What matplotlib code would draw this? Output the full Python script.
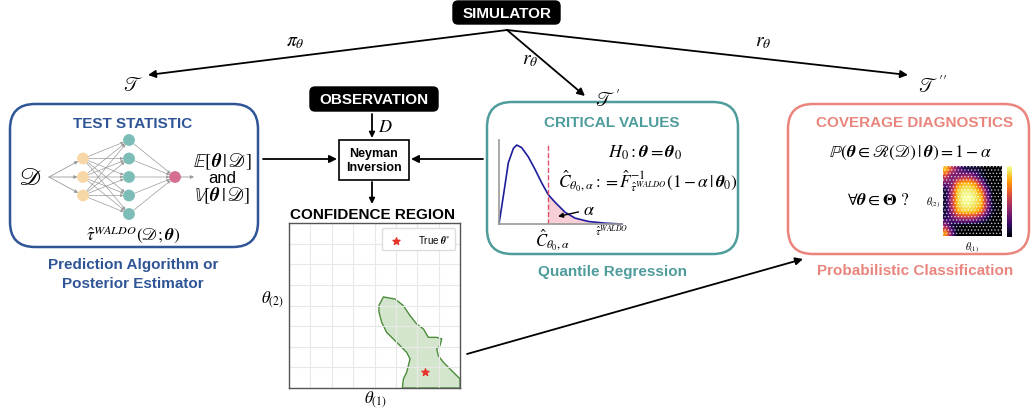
import numpy as np
import matplotlib.pyplot as plt
from matplotlib.patches import FancyBboxPatch, Rectangle, Circle, Polygon

plt.rcParams['font.family'] = ['Liberation Sans', 'DejaVu Sans']
plt.rcParams['mathtext.fontset'] = 'stix'
plt.rcParams['hatch.linewidth'] = 0.6

W, H = 1031, 410

BLUE = '#2f5597'
TEAL = '#4f9c9c'
SALMON = '#e9857d'

# neural net layers (node counts)
layer_sizes = [3, 5, 1]
layer_colors = ['#f8d7a6', '#7dbdb8', '#d46f8f']

# test statistic density
tau = [0, 0.35, 0.76, 1.17, 1.44, 1.84, 2.38, 2.93, 3.47, 4.0, 4.55, 5.37, 6.18, 7.27, 8.62, 10.0]
density = [0, 0.33, 0.73, 0.90, 0.94, 0.91, 0.80, 0.65, 0.49, 0.35, 0.26, 0.14, 0.07, 0.03, 0.01, 0.0]
cutoff = 4.0

# confidence region outline (axes fractions)
region_x = [0.526, 0.552, 0.620, 0.669, 0.708, 0.747, 0.786, 0.815, 0.864, 0.893, 0.883, 0.864,
            0.873, 0.903, 0.942, 0.981, 1.0, 1.0, 0.663, 0.669, 0.688, 0.708, 0.688, 0.649,
            0.610, 0.571, 0.542, 0.526]
region_y = [0.501, 0.552, 0.539, 0.499, 0.438, 0.388, 0.358, 0.307, 0.307, 0.297, 0.257, 0.236,
            0.196, 0.156, 0.115, 0.075, 0.055, 0.0, 0.0, 0.055, 0.095, 0.176, 0.216, 0.257,
            0.297, 0.337, 0.398, 0.461]
true_theta = (0.795, 0.099)

# estimated coverage probability grid (rows top -> bottom)
coverage = np.array([
    [0.85, 0.55, 0.30, 0.15, 0.10, 0.10, 0.05, 0.00, 0.00, 0.00],
    [0.55, 0.30, 0.35, 0.45, 0.45, 0.30, 0.10, 0.00, 0.00, 0.00],
    [0.30, 0.35, 0.75, 0.85, 0.85, 0.75, 0.40, 0.05, 0.00, 0.00],
    [0.10, 0.45, 0.88, 0.95, 0.95, 0.90, 0.70, 0.25, 0.00, 0.00],
    [0.10, 0.50, 0.90, 1.00, 1.00, 0.95, 0.85, 0.35, 0.00, 0.00],
    [0.10, 0.50, 0.88, 0.97, 0.97, 0.92, 0.85, 0.40, 0.05, 0.00],
    [0.10, 0.40, 0.80, 0.88, 0.88, 0.85, 0.70, 0.30, 0.05, 0.00],
    [0.15, 0.25, 0.40, 0.45, 0.45, 0.40, 0.25, 0.10, 0.00, 0.00],
    [0.40, 0.10, 0.05, 0.00, 0.00, 0.00, 0.00, 0.00, 0.00, 0.00],
    [0.75, 0.30, 0.00, 0.00, 0.00, 0.00, 0.00, 0.00, 0.00, 0.00],
])


def px_axes(fig, x0, y0, x1, y1):
    return fig.add_axes([x0 / W, 1 - y1 / H, (x1 - x0) / W, (y1 - y0) / H])


def arrow(ax, start, end, lw=1.3, color='black', ms=11):
    ax.annotate('', xy=end, xytext=start,
                arrowprops=dict(arrowstyle='-|>', color=color, lw=lw,
                                mutation_scale=ms, shrinkA=0, shrinkB=0))


def rbox(ax, x0, y0, x1, y1, ec, fc='none', r=25, lw=1.8):
    ax.add_patch(FancyBboxPatch((x0, y0), x1 - x0, y1 - y0,
                                boxstyle=f'round,pad=0,rounding_size={r}',
                                ec=ec, fc=fc, lw=lw))


def main():
    fig = plt.figure(figsize=(W / 100, H / 100), dpi=100)
    ax = fig.add_axes([0, 0, 1, 1])
    ax.set_xlim(0, W)
    ax.set_ylim(H, 0)
    ax.axis('off')

    # simulator and branches
    rbox(ax, 453, 2, 560, 25, 'black', 'black', r=5, lw=1)
    ax.text(507, 14, 'SIMULATOR', color='white', weight='bold', size=11, ha='center', va='center')
    apex = (507, 31)
    arrow(ax, apex, (148, 76))
    arrow(ax, apex, (585, 97))
    arrow(ax, apex, (908, 76))
    ax.text(295, 42, r'$\pi_\theta$', size=14, ha='center', va='center')
    ax.text(530, 60, r'$r_\theta$', size=14, ha='center', va='center')
    ax.text(763, 42, r'$r_\theta$', size=14, ha='center', va='center')
    ax.text(133, 86, r'$\mathscr{T}$', size=14, ha='center', va='center')
    ax.text(608, 100, r"$\mathscr{T}'$", size=14, ha='center', va='center')
    ax.text(932, 86, r"$\mathscr{T}''$", size=14, ha='center', va='center')

    # test statistic panel
    rbox(ax, 10, 105, 258, 248, BLUE)
    ax.text(133, 124, 'TEST STATISTIC', color=BLUE, weight='bold', size=11, ha='center', va='center')
    ax.text(30, 178, r'$\mathscr{D}$', size=18, ha='center', va='center')
    xs = [83, 129, 175]
    spacing = 18.5
    nodes = [[(x, 178 + (i - (n - 1) / 2) * spacing) for i in range(n)]
             for x, n in zip(xs, layer_sizes)]
    for p in nodes[0]:
        ax.annotate('', xy=p, xytext=(49, 178),
                    arrowprops=dict(arrowstyle='-|>', color='#999999', lw=0.6,
                                    mutation_scale=5, shrinkA=0, shrinkB=4))
    for a_layer, b_layer in zip(nodes[:-1], nodes[1:]):
        for a in a_layer:
            for b in b_layer:
                ax.annotate('', xy=b, xytext=a,
                            arrowprops=dict(arrowstyle='-|>', color='#999999', lw=0.5,
                                            mutation_scale=4, shrinkA=3, shrinkB=4))
    ax.annotate('', xy=(194, 178), xytext=nodes[-1][0],
                arrowprops=dict(arrowstyle='-|>', color='#999999', lw=0.6,
                                mutation_scale=5, shrinkA=4, shrinkB=0))
    for layer, c in zip(nodes, layer_colors):
        for p in layer:
            ax.add_patch(Circle(p, 5.2, color=c, zorder=3))
    ax.text(222, 162, r'$\mathbb{E}[\boldsymbol{\theta}\,|\,\mathscr{D}]$', size=13.5, ha='center', va='center')
    ax.text(222, 179, 'and', size=12, ha='center', va='center')
    ax.text(222, 196, r'$\mathbb{V}[\boldsymbol{\theta}\,|\,\mathscr{D}]$', size=13.5, ha='center', va='center')
    ax.text(133, 235, r'$\hat{\tau}^{WALDO}(\mathscr{D};\boldsymbol{\theta})$', size=12.5, ha='center', va='center')
    ax.text(133, 265, 'Prediction Algorithm or', color=BLUE, weight='bold', size=11, ha='center', va='center')
    ax.text(133, 284, 'Posterior Estimator', color=BLUE, weight='bold', size=11, ha='center', va='center')

    # observation / neyman inversion
    rbox(ax, 310, 88, 438, 112, 'black', 'black', r=5, lw=1)
    ax.text(374, 100, 'OBSERVATION', color='white', weight='bold', size=11, ha='center', va='center')
    arrow(ax, (372, 115), (372, 139), ms=8)
    ax.text(385, 127, r'$D$', size=13, ha='center', va='center')
    ax.add_patch(Rectangle((339, 141), 70, 40, fc='white', ec='black', lw=1.2))
    ax.text(374, 161, 'Neyman\nInversion', weight='bold', size=9, ha='center', va='center',
            linespacing=1.3)
    arrow(ax, (263, 160), (337, 160))
    arrow(ax, (483, 160), (411, 160))
    arrow(ax, (372, 183), (372, 205), ms=8)
    ax.text(372, 215, 'CONFIDENCE REGION', weight='bold', size=11, ha='center', va='center')
    ax.text(272, 300, r'$\theta_{(2)}$', size=12, ha='center', va='center')
    ax.text(375, 400, r'$\theta_{(1)}$', size=12, ha='center', va='center')

    # critical values panel
    rbox(ax, 487, 103, 738, 255, TEAL)
    ax.text(612, 123, 'CRITICAL VALUES', color=TEAL, weight='bold', size=11, ha='center', va='center')
    ax.text(645, 153, r'$H_0:\boldsymbol{\theta}=\boldsymbol{\theta}_0$', size=13, ha='center', va='center')
    ax.text(648, 181, r'$\hat{C}_{\theta_0,\alpha}:=\hat{F}^{-1}_{\hat{\tau}^{WALDO}}(1-\alpha\,|\,\boldsymbol{\theta}_0)$',
            size=12.5, ha='center', va='center')
    ax.text(552, 240, r'$\hat{C}_{\theta_0,\alpha}$', size=12, ha='center', va='center')
    ax.text(612, 231, r'$\hat{\tau}^{WALDO}$', size=8, ha='center', va='center')
    ax.text(612, 272, 'Quantile Regression', color=TEAL, weight='bold', size=11, ha='center', va='center')

    # coverage panel
    rbox(ax, 788, 105, 1029, 255, SALMON)
    ax.text(915, 123, 'COVERAGE DIAGNOSTICS', color=SALMON, weight='bold', size=11, ha='center', va='center')
    ax.text(910, 153, r'$\mathbb{P}(\boldsymbol{\theta}\in\mathscr{R}(\mathscr{D})\,|\,\boldsymbol{\theta})=1-\alpha$',
            size=12.5, ha='center', va='center')
    ax.text(878, 201, r'$\forall\boldsymbol{\theta}\in\mathbf{\Theta}$ ?', size=12.5, ha='center', va='center',
            family='STIXGeneral')
    ax.text(933, 203, r'$\theta_{(2)}$', size=7, ha='center', va='center')
    ax.text(972, 248, r'$\theta_{(1)}$', size=7, ha='center', va='center')
    ax.text(915, 271, 'Probabilistic Classification', color=SALMON, weight='bold', size=11,
            ha='center', va='center')
    arrow(ax, (467, 355), (803, 260))

    # confidence region plot
    cr = px_axes(fig, 289, 224, 460, 389)
    cr.set_xlim(0, 1)
    cr.set_ylim(0, 1)
    ticks = np.arange(0, 1.01, 0.125)
    cr.set_xticks(ticks)
    cr.set_yticks(ticks)
    cr.tick_params(length=0, labelbottom=False, labelleft=False)
    cr.grid(color='#e8e8e8', lw=0.8)
    for s in cr.spines.values():
        s.set_color('#555555')
        s.set_linewidth(1.0)
    cr.add_patch(Polygon(list(zip(region_x, region_y)), closed=True,
                         fc='#d3e6cd', ec='#4c8c3a', lw=1.0))
    cr.scatter([true_theta[0]], [true_theta[1]], marker='*', s=28, color='#e8332a', zorder=3,
               label=r'True $\boldsymbol{\theta}^{*}$')
    cr.legend(loc='upper right', fontsize=7, frameon=True, framealpha=1, edgecolor='#dddddd',
              handletextpad=1.2, borderpad=0.5)

    # density plot
    dn = px_axes(fig, 499, 141, 622, 225)
    dn.patch.set_alpha(0)
    dn.set_xlim(0, 10)
    dn.set_ylim(0, 1)
    dn.set_xticks([])
    dn.set_yticks([])
    for side in ['top', 'right']:
        dn.spines[side].set_visible(False)
    for side in ['left', 'bottom']:
        dn.spines[side].set_color('#999999')
        dn.spines[side].set_linewidth(1.2)
    t = np.array(tau)
    d = np.array(density)
    dn.fill_between(t, d, where=t >= cutoff, color='#f8cfd6', lw=0)
    dn.plot(t, d, color='#1d1d9e', lw=1.2, clip_on=False)
    dn.axvline(cutoff, ymax=0.95, color='#e0506a', ls='--', lw=1)
    dn.annotate(r'$\alpha$', xy=(4.8, 0.09), xytext=(6.8, 0.17), size=13, va='center',
                arrowprops=dict(arrowstyle='-|>', color='black', lw=1, mutation_scale=7,
                                shrinkA=1, shrinkB=0))

    # coverage heatmap
    hm = px_axes(fig, 943, 167, 1002, 237)
    im = hm.imshow(coverage, cmap='inferno', vmin=0, vmax=1, aspect='auto',
                   interpolation='bilinear', extent=(0, 1, 0, 1))
    hm.add_patch(Rectangle((0, 0), 1, 1, fill=False, hatch='.....', ec='white', lw=0, alpha=0.7))
    hm.set_xticks([])
    hm.set_yticks([])
    for s in hm.spines.values():
        s.set_visible(False)
    cax = px_axes(fig, 1007, 167, 1012, 238)
    cb = fig.colorbar(im, cax=cax)
    cb.set_ticks([])
    cb.outline.set_visible(False)

    fig.savefig('out.png', dpi=100)
    plt.close(fig)


if __name__ == '__main__':
    main()
